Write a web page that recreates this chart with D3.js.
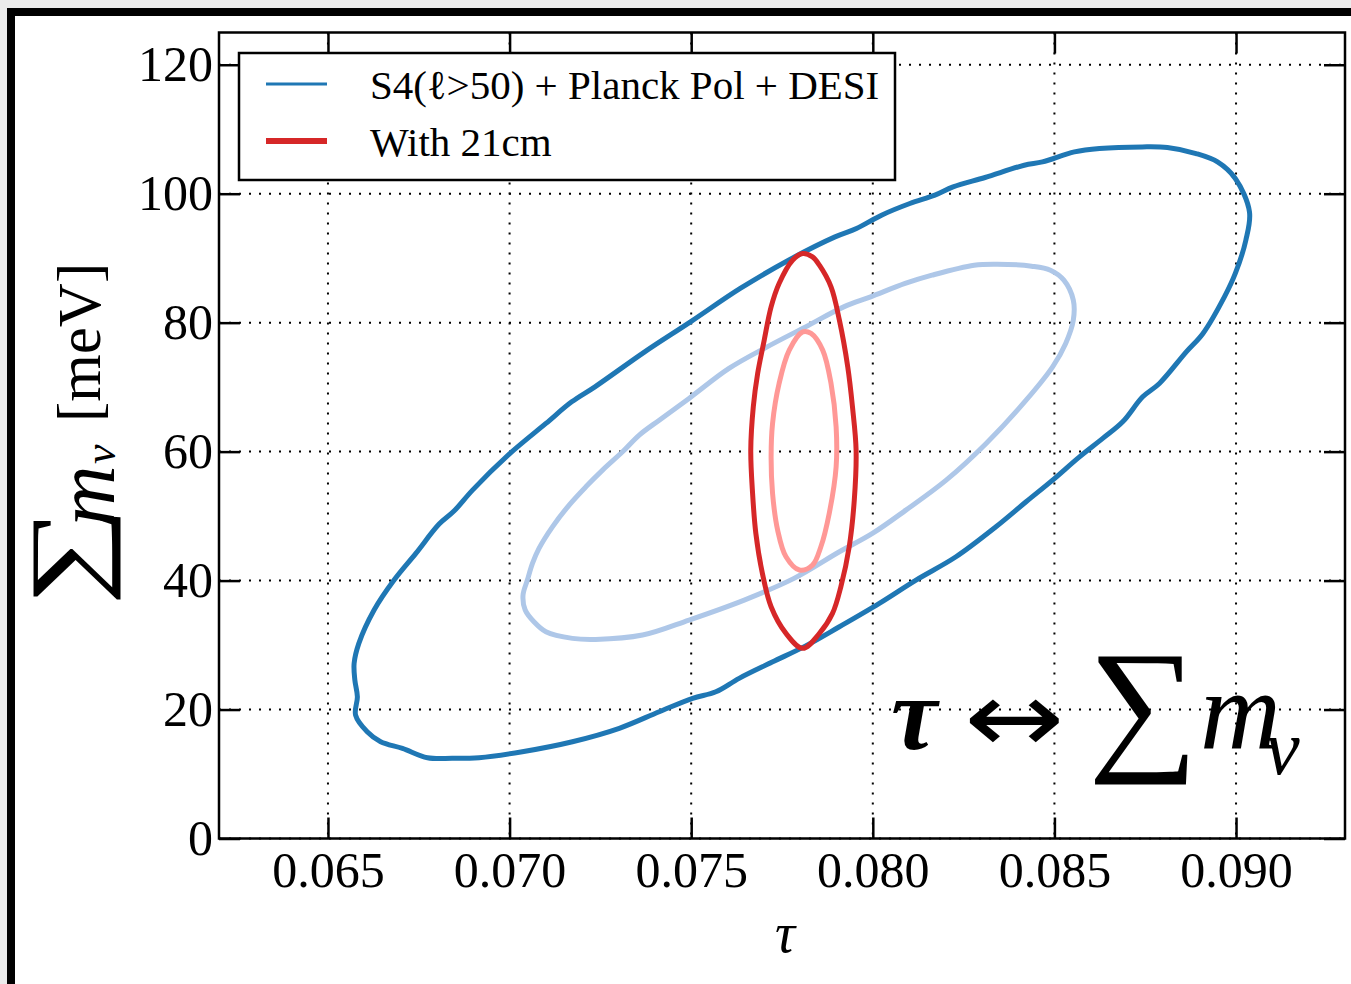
<!DOCTYPE html>
<html lang="en">
<head>
<meta charset="utf-8">
<title>tau vs sum m_nu</title>
<script src="https://cdn.jsdelivr.net/npm/d3@7"></script>
<style>
  body { margin: 0; background: #ebebeb; }
  text { font-family: "Liberation Serif", "Times New Roman", serif; fill: #000; }
</style>
</head>
<body>
<script>
// tick values
var tauTicks = [0.065, 0.070, 0.075, 0.080, 0.085, 0.090];
var mnuTicks = [0, 20, 40, 60, 80, 100, 120];

// contours, [tau, sum m_nu (meV)]
var s4Outer = [
  [0.06576, 19.15], [0.06581, 21.98], [0.06574, 24.57], [0.06572, 27.16], [0.06585, 30.26],
  [0.06627, 35.43], [0.06682, 40.08], [0.06742, 44.22], [0.06806, 48.76], [0.06847, 50.78],
  [0.06898, 54.03], [0.06999, 59.61], [0.07100, 64.37], [0.07171, 67.72], [0.07235, 70.05],
  [0.07372, 75.47], [0.07498, 80.12], [0.07635, 85.30], [0.07768, 89.69], [0.07896, 93.30],
  [0.07955, 94.60], [0.08024, 96.67], [0.08102, 98.48], [0.08171, 99.77], [0.08221, 101.05],
  [0.08309, 102.51], [0.08417, 104.42], [0.08467, 104.93], [0.08555, 106.48], [0.08624, 107.01],
  [0.08742, 107.26], [0.08811, 107.16], [0.08890, 106.23], [0.08949, 104.93], [0.08998, 102.36],
  [0.09037, 97.18], [0.09027, 92.79], [0.08998, 87.63], [0.08968, 84.00], [0.08909, 78.33],
  [0.08863, 75.47], [0.08789, 70.57], [0.08743, 68.50], [0.08688, 64.62], [0.08633, 62.05],
  [0.08569, 59.19], [0.08495, 55.58], [0.08422, 52.22], [0.08339, 48.34], [0.08229, 43.69],
  [0.08119, 40.08], [0.08018, 36.47], [0.07908, 32.84], [0.07814, 29.84], [0.07723, 27.36],
  [0.07632, 24.84], [0.07568, 22.76], [0.07504, 21.74], [0.07412, 19.66], [0.07302, 17.09],
  [0.07173, 15.01], [0.07035, 13.46], [0.06916, 12.53], [0.06842, 12.43], [0.06774, 12.53],
  [0.06705, 13.98], [0.06645, 15.01], [0.06608, 16.56]
];
var s4Inner = [
  [0.07037, 37.75], [0.07049, 40.08], [0.07063, 42.67], [0.07081, 44.99], [0.07118, 48.34],
  [0.07164, 51.71], [0.07210, 54.54], [0.07256, 57.13], [0.07311, 59.97], [0.07357, 62.56],
  [0.07412, 64.88], [0.07494, 68.25], [0.07604, 72.90], [0.07709, 76.25], [0.07815, 79.35],
  [0.07920, 82.45], [0.07994, 84.00], [0.08089, 86.08], [0.08163, 87.36], [0.08279, 88.91],
  [0.08342, 89.07], [0.08437, 88.76], [0.08489, 88.14], [0.08526, 86.59], [0.08552, 83.49],
  [0.08552, 80.39], [0.08531, 76.78], [0.08495, 73.15], [0.08422, 67.98], [0.08312, 61.27],
  [0.08202, 55.58], [0.08091, 50.93], [0.07999, 47.32], [0.07908, 44.47], [0.07783, 40.34],
  [0.07646, 36.98], [0.07494, 33.88], [0.07366, 31.55], [0.07237, 30.88], [0.07173, 31.04],
  [0.07100, 32.06], [0.07067, 33.61], [0.07043, 35.43]
];
var cmOuter = [
  [0.07807, 90.73], [0.07834, 90.20], [0.07853, 88.91], [0.07885, 85.55], [0.07908, 80.39],
  [0.07931, 73.15], [0.07944, 66.95], [0.07954, 60.23], [0.07949, 52.48], [0.07935, 45.24],
  [0.07912, 39.04], [0.07889, 34.91], [0.07853, 31.81], [0.07807, 29.49], [0.07761, 31.81],
  [0.07720, 35.94], [0.07696, 41.12], [0.07678, 47.32], [0.07669, 53.52], [0.07664, 60.23],
  [0.07671, 66.95], [0.07683, 72.12], [0.07701, 77.29], [0.07720, 82.45], [0.07742, 86.08],
  [0.07779, 89.69]
];
var cmInner = [
  [0.07807, 78.57], [0.07830, 78.33], [0.07862, 75.74], [0.07885, 70.57], [0.07899, 63.84],
  [0.07899, 57.64], [0.07880, 50.42], [0.07857, 45.24], [0.07834, 42.40], [0.07798, 41.63],
  [0.07761, 43.69], [0.07738, 47.83], [0.07724, 53.52], [0.07720, 59.19], [0.07724, 64.37],
  [0.07742, 70.57], [0.07770, 75.74]
];

var legendLabels = ["S4(\u2113>50) + Planck Pol + DESI", "With 21cm"];

var width = 1351, height = 984;

var svg = d3.select("body").append("svg")
  .attr("width", width)
  .attr("height", height);

// page frame
svg.append("rect").attr("x", 0).attr("y", 0).attr("width", width).attr("height", height).attr("fill", "#ebebeb");
svg.append("rect").attr("x", 7).attr("y", 8).attr("width", width).attr("height", height).attr("fill", "#000");
svg.append("rect").attr("x", 15).attr("y", 16).attr("width", width).attr("height", height).attr("fill", "#fff");

// plot box (note: "top" is taken by window.top, so prefixed names)
var pL = 219, pR = 1345, pT = 32.5, pB = 838.5;

var x = d3.scaleLinear().domain([0.062, 0.093]).range([pL, pR]);
var y = d3.scaleLinear().domain([0, 125]).range([pB, pT]);

// dotted grid
var grid = svg.append("g");
grid.selectAll(".gx").data(tauTicks).enter().append("line")
  .attr("x1", function(d){ return x(d); }).attr("x2", function(d){ return x(d); })
  .attr("y1", pT).attr("y2", pB)
  .attr("stroke", "#000").attr("stroke-width", 2).attr("stroke-dasharray", "2,8");
grid.selectAll(".gy").data(mnuTicks).enter().append("line")
  .attr("x1", pL).attr("x2", pR)
  .attr("y1", function(d){ return y(d); }).attr("y2", function(d){ return y(d); })
  .attr("stroke", "#000").attr("stroke-width", 2).attr("stroke-dasharray", "2,8");

// contours
var line = d3.line()
  .x(function(d){ return x(d[0]); })
  .y(function(d){ return y(d[1]); })
  .curve(d3.curveCatmullRomClosed.alpha(0.5));

function contour(data, color, w) {
  svg.append("path")
    .attr("d", line(data))
    .attr("fill", "none")
    .attr("stroke", color)
    .attr("stroke-width", w)
    .attr("stroke-linejoin", "round");
}
contour(s4Outer, "#1f77b4", 5);
contour(s4Inner, "#aec7e8", 5);
contour(cmOuter, "#d62728", 5);
contour(cmInner, "#ff9896", 5);

// axes, ticks pointing inwards on all four sides
var tickLen = 21;
var xAxisB = svg.append("g").attr("transform", "translate(0," + pB + ")")
  .call(d3.axisBottom(x).tickValues(tauTicks).tickSize(-tickLen).tickPadding(13)
    .tickFormat(d3.format(".3f")));
var xAxisT = svg.append("g").attr("transform", "translate(0," + pT + ")")
  .call(d3.axisTop(x).tickValues(tauTicks).tickSize(-tickLen).tickFormat(""));
var yAxisL = svg.append("g").attr("transform", "translate(" + pL + ",0)")
  .call(d3.axisLeft(y).tickValues(mnuTicks).tickSize(-tickLen).tickPadding(6));
var yAxisR = svg.append("g").attr("transform", "translate(" + pR + ",0)")
  .call(d3.axisRight(y).tickValues(mnuTicks).tickSize(-tickLen).tickFormat(""));

[xAxisB, xAxisT, yAxisL, yAxisR].forEach(function(a){
  a.select(".domain").remove();
  a.selectAll(".tick line").attr("stroke", "#000").attr("stroke-width", 2.5);
  a.selectAll(".tick text").attr("font-size", 50).attr("font-family", "Liberation Serif").attr("fill", "#000");
});

svg.append("rect")
  .attr("x", pL).attr("y", pT)
  .attr("width", pR - pL).attr("height", pB - pT)
  .attr("fill", "none").attr("stroke", "#000").attr("stroke-width", 2.5);

// axis labels
svg.append("text").attr("x", 785).attr("y", 952)
  .attr("text-anchor", "middle").attr("font-size", 56).attr("font-style", "italic")
  .text("\u03c4");

var ylab = svg.append("g").attr("transform", "translate(104,606) rotate(-90)");
ylab.append("text").attr("transform", "translate(0,-5) scale(1.4,1)")
  .attr("font-size", 100).text("\u2211");
ylab.append("text").attr("x", 80).attr("y", 10).attr("font-size", 84).attr("font-style", "italic").text("m");
ylab.append("text").attr("x", 142).attr("y", 11).attr("font-size", 44).attr("font-style", "italic").text("\u03bd");
ylab.append("text").attr("x", 184).attr("y", -4).attr("font-size", 61).text("[meV]");

// legend
var lg = svg.append("g");
lg.append("rect").attr("x", 239).attr("y", 53).attr("width", 656).attr("height", 127)
  .attr("fill", "#fff").attr("stroke", "#000").attr("stroke-width", 2.5);
var legendColors = ["#1f77b4", "#d62728"];
var legendWidths = [3, 6];
var legendY = [84, 141];
legendLabels.forEach(function(t, i){
  lg.append("line").attr("x1", 266).attr("x2", 327)
    .attr("y1", legendY[i]).attr("y2", legendY[i])
    .attr("stroke", legendColors[i]).attr("stroke-width", legendWidths[i]);
  lg.append("text").attr("x", 370).attr("y", legendY[i] + 15)
    .attr("font-size", 41).text(t);
});

// annotation
var an = svg.append("g");
an.append("text").attr("x", 891).attr("y", 749).attr("font-size", 104).attr("font-style", "italic")
  .attr("font-weight", "bold").text("\u03c4");
an.append("text").attr("transform", "translate(964,752) scale(1.2,1)").attr("font-size", 100)
  .style("font-family", "DejaVu Sans").text("\u2194");
an.append("text").attr("transform", "translate(1088,753) scale(1.05,1)")
  .attr("font-size", 147).text("\u2211");
an.append("text").attr("x", 1200).attr("y", 749).attr("font-size", 112).attr("font-style", "italic").text("m");
an.append("text").attr("x", 1265).attr("y", 774).attr("font-size", 78).attr("font-style", "italic").text("\u03bd");
</script>
</body>
</html>
